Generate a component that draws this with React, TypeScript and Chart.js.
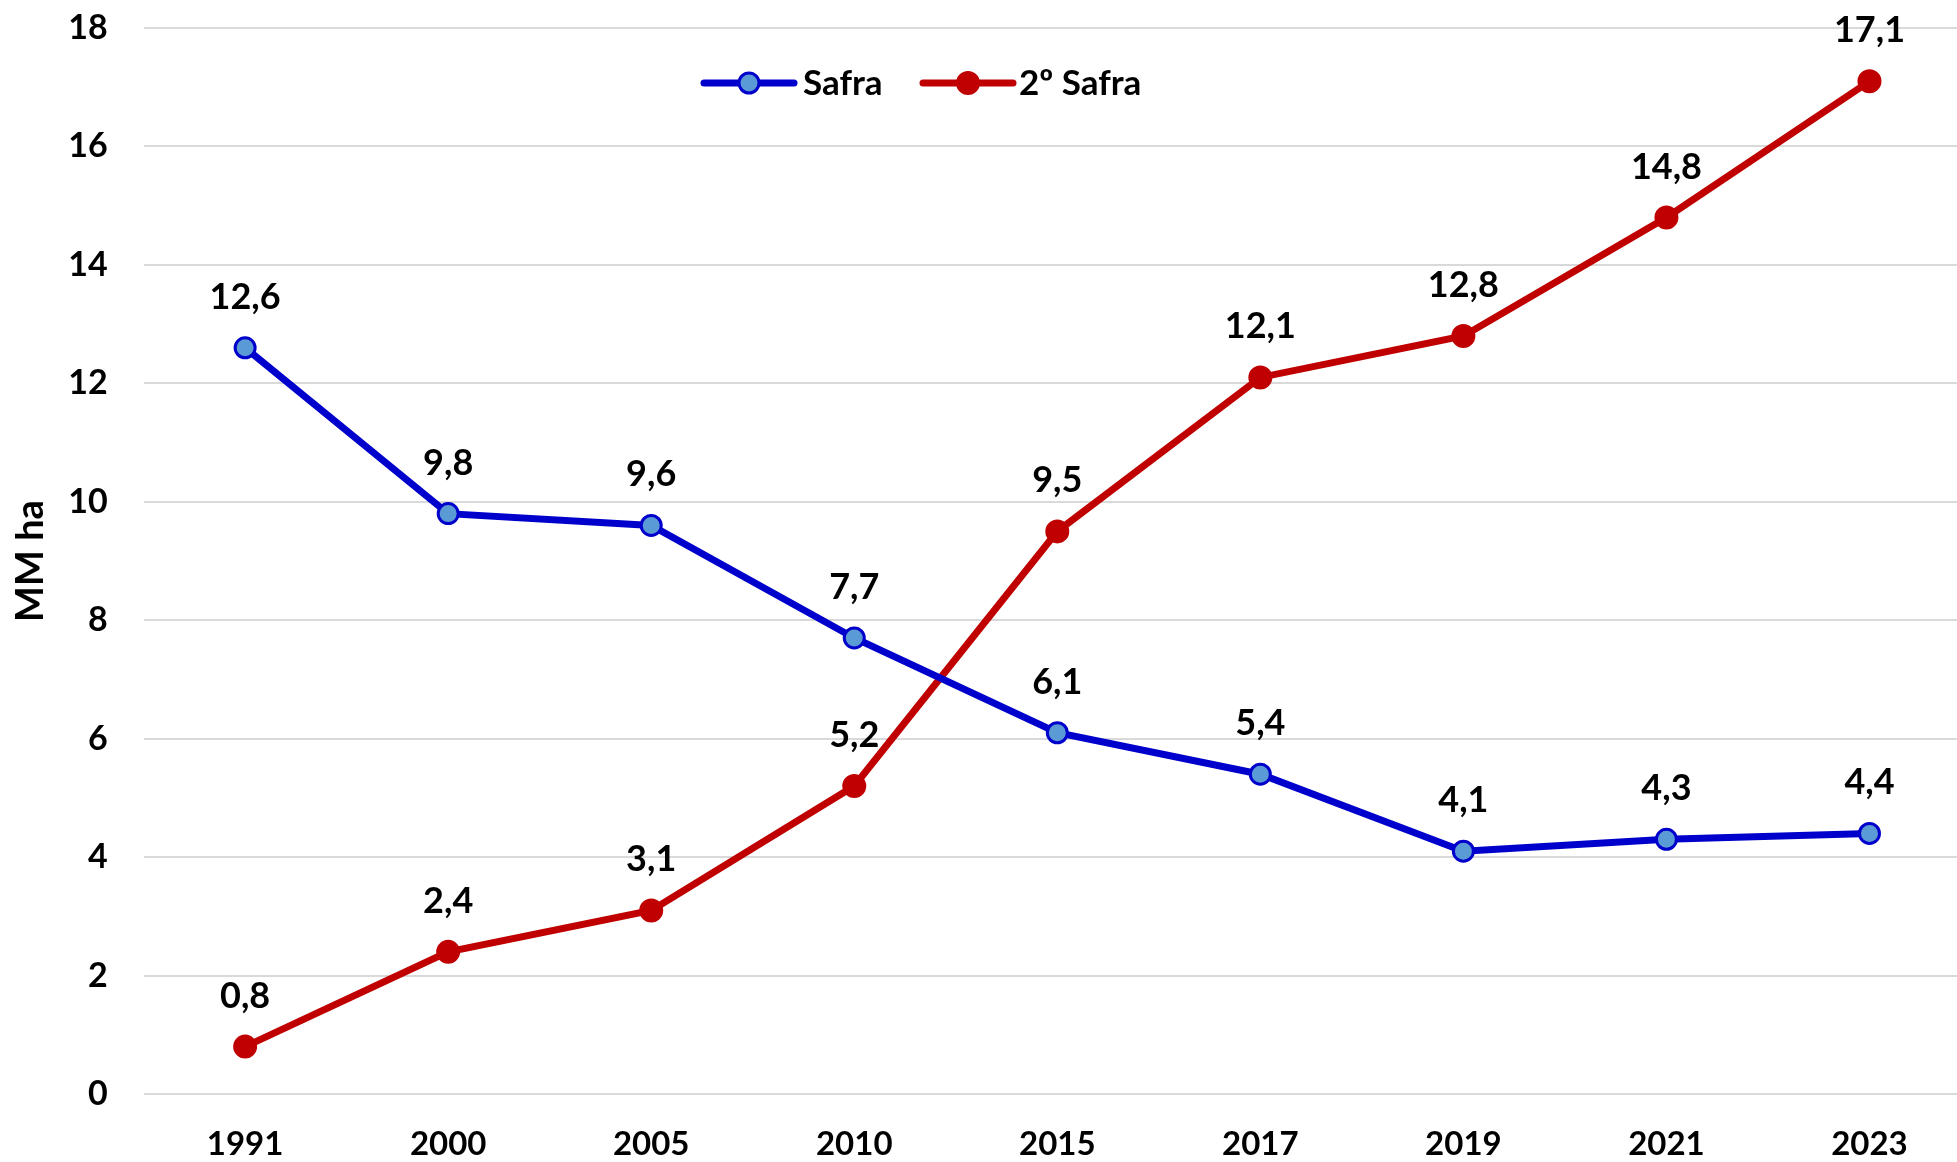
import React, { useEffect, useRef } from "react";
import { Chart, registerables } from "chart.js";

Chart.register(...registerables);

const categories = ["1991", "2000", "2005", "2010", "2015", "2017", "2019", "2021", "2023"];
const safra = [12.6, 9.8, 9.6, 7.7, 6.1, 5.4, 4.1, 4.3, 4.4];
const segundaSafra = [0.8, 2.4, 3.1, 5.2, 9.5, 12.1, 12.8, 14.8, 17.1];
const seriesNames = ["Safra", "2º Safra"];
const yMin = 0;
const yMax = 18;
const yStep = 2;
const yAxisTitle = "MM ha";

const FONT = "Lato, 'Open Sans', sans-serif";
const BLUE = "#0000CC";
const BLUE_FILL = "#5B9BD5";
const RED = "#C00000";

const fmt = (v: number) => v.toFixed(1).replace(".", ",");

const dataLabelPlugin = {
  id: "dataLabels",
  afterDatasetsDraw(chart: any) {
    const ctx = chart.ctx;
    ctx.save();
    ctx.font = `bold 36px ${FONT}`;
    ctx.fillStyle = "#000000";
    ctx.textAlign = "center";
    ctx.textBaseline = "alphabetic";
    chart.data.datasets.forEach((ds: any, i: number) => {
      const meta = chart.getDatasetMeta(i);
      meta.data.forEach((pt: any, j: number) => {
        ctx.fillText(fmt(ds.data[j]), pt.x, pt.y - 39);
      });
    });
    ctx.restore();
  },
};

const legendPlugin = {
  id: "customLegend",
  afterDraw(chart: any) {
    const ctx = chart.ctx;
    const items = [
      { x: 704, textX: 803 },
      { x: 923, textX: 1019 },
    ];
    const y = 83;
    ctx.save();
    chart.data.datasets.forEach((ds: any, i: number) => {
      const it = items[i];
      if (!it) return;
      ctx.beginPath();
      ctx.lineCap = "round";
      ctx.lineWidth = 7;
      ctx.strokeStyle = ds.borderColor;
      ctx.moveTo(it.x, y);
      ctx.lineTo(it.x + 90, y);
      ctx.stroke();
      ctx.beginPath();
      ctx.arc(it.x + 45, y, ds.pointRadius, 0, Math.PI * 2);
      ctx.fillStyle = ds.pointBackgroundColor;
      ctx.fill();
      ctx.lineWidth = ds.pointBorderWidth;
      ctx.strokeStyle = ds.pointBorderColor;
      ctx.stroke();
      ctx.font = `bold 35px ${FONT}`;
      ctx.fillStyle = "#000000";
      ctx.textAlign = "left";
      ctx.textBaseline = "alphabetic";
      ctx.fillText(ds.label, it.textX, 95);
    });
    ctx.restore();
  },
};

export default function App() {
  const canvasRef = useRef<HTMLCanvasElement | null>(null);

  useEffect(() => {
    if (!canvasRef.current) return;
    const chart = new Chart(canvasRef.current, {
      type: "line",
      data: {
        labels: categories,
        datasets: [
          {
            label: seriesNames[0],
            data: safra,
            borderColor: BLUE,
            backgroundColor: BLUE,
            borderWidth: 7,
            pointRadius: 10,
            pointBorderWidth: 3,
            pointBackgroundColor: BLUE_FILL,
            pointBorderColor: BLUE,
            pointHoverRadius: 10,
            tension: 0,
          },
          {
            label: seriesNames[1],
            data: segundaSafra,
            borderColor: RED,
            backgroundColor: RED,
            borderWidth: 7,
            pointRadius: 11,
            pointBorderWidth: 2,
            pointBackgroundColor: RED,
            pointBorderColor: RED,
            pointHoverRadius: 11,
            tension: 0,
          },
        ],
      },
      options: {
        responsive: false,
        animation: false,
        layout: { padding: { top: 28, left: 0, right: 2, bottom: 0 } },
        plugins: {
          legend: { display: false },
          tooltip: { enabled: false },
          title: { display: false },
        },
        scales: {
          x: {
            type: "category",
            offset: true,
            grid: { display: false, drawTicks: false },
            border: { display: false },
            ticks: {
              color: "#000000",
              font: { family: FONT, size: 33, weight: "bold" },
              padding: 31,
              maxRotation: 0,
              autoSkip: false,
            },
            afterFit(scale: any) {
              scale.height = 68;
              scale.paddingLeft = 0;
              scale.paddingRight = 0;
            },
          },
          y: {
            min: yMin,
            max: yMax,
            grid: { color: "#D9D9D9", lineWidth: 2, drawTicks: false },
            border: { display: false },
            ticks: {
              stepSize: yStep,
              color: "#000000",
              font: { family: FONT, size: 34, weight: "bold" },
              padding: 36,
            },
            title: {
              display: true,
              text: yAxisTitle,
              color: "#000000",
              font: { family: FONT, size: 38, weight: "bold" },
              padding: { top: 8, bottom: 0 },
            },
            afterFit(scale: any) {
              scale.width = 143.6;
              scale.paddingTop = 0;
              scale.paddingBottom = 0;
            },
          },
        },
      },
      plugins: [dataLabelPlugin, legendPlugin],
    });
    return () => chart.destroy();
  }, []);

  return (
    <div style={{ position: "fixed", left: 0, top: 0, width: "100vw", height: "100vh", overflow: "hidden", background: "#ffffff" }}>
      <canvas ref={canvasRef} width={1984} height={1162} style={{ display: "block" }} />
    </div>
  );
}
